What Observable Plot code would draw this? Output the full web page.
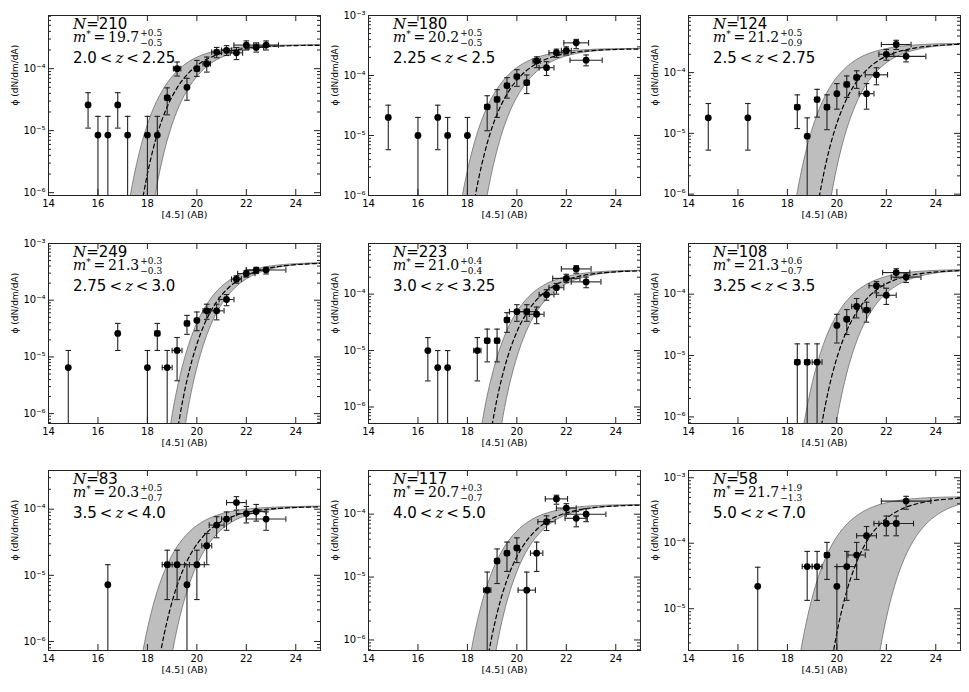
<!DOCTYPE html>
<html><head><meta charset="utf-8">
<script src="https://cdn.jsdelivr.net/npm/d3@7"></script>
<script src="https://cdn.jsdelivr.net/npm/@observablehq/plot@0.6"></script>
<style>
body{margin:0;background:#fff;}
#wrap{position:relative;width:969px;height:692px;overflow:hidden;background:#fff;}
#wrap svg{position:absolute;}
</style></head><body><div id="wrap"></div>
<script>
// ---------- chart values ----------
const nCounts = [210, 180, 124, 249, 223, 108, 83, 117, 58];
const mStars = ["19.7", "20.2", "21.2", "21.3", "21.0", "21.3", "20.3", "20.7", "21.7"];
const mErrPlus = ["0.5", "0.5", "0.5", "0.3", "0.4", "0.6", "0.5", "0.3", "1.9"];
const mErrMinus = ["0.5", "0.5", "0.9", "0.3", "0.4", "0.7", "0.7", "0.7", "1.3"];
const zLow = ["2.0", "2.25", "2.5", "2.75", "3.0", "3.25", "3.5", "4.0", "5.0"];
const zHigh = ["2.25", "2.5", "2.75", "3.0", "3.25", "3.5", "4.0", "5.0", "7.0"];
const xTicks = [14, 16, 18, 20, 22, 24];
const xDomain = [14, 25];
const yDomains = [[9.0e-7, 7.2e-4], [1e-6, 1e-3], [9.5e-7, 8.7e-4], [6.7e-7, 1e-3], [5.1e-7, 7.9e-4],
  [7.8e-7, 6.7e-4], [7.3e-7, 3.85e-4], [6.8e-7, 4.95e-4], [2.3e-6, 1.29e-3]];
const xLabel = "[4.5] (AB)";
const yLabel = "\u03d5 (dN/dm/dA)";

// data points: [mag, phi, phiUpper, phiLower (0 = reaches axis), magHalfWidth]
const pts1 = [[15.6,2.6e-5,4.1e-5,1.1e-5,0],[16.0,8.5e-6,1.7e-5,0,0],[16.4,8.5e-6,1.7e-5,0,0],[16.8,2.6e-5,4.1e-5,1.1e-5,0],[17.2,8.5e-6,1.7e-5,0,0],[18.0,8.5e-6,1.7e-5,0,0],[18.4,8.5e-6,1.7e-5,0,0],[18.8,3.4e-5,4.9e-5,1.8e-5,0.1],[19.2,1.0e-4,1.28e-4,7.6e-5,0.15],[19.6,5.0e-5,7.0e-5,3.1e-5,0],[20.0,1.0e-4,1.36e-4,7.5e-5,0.1],[20.4,1.2e-4,1.54e-4,8.8e-5,0.15],[20.8,1.85e-4,2.2e-4,1.5e-4,0.2],[21.2,1.97e-4,2.35e-4,1.63e-4,0.2],[21.6,1.8e-4,2.2e-4,1.4e-4,0.25],[22.0,2.4e-4,2.8e-4,2.0e-4,0.5],[22.4,2.2e-4,2.6e-4,1.85e-4,0.3],[22.8,2.4e-4,2.8e-4,2.0e-4,0.5]];
const pts2 = [[14.8,2.0e-5,3.2e-5,5.8e-6,0],[16.0,1.0e-5,2.0e-5,0,0],[16.8,2.0e-5,3.2e-5,5.8e-6,0],[17.2,1.0e-5,2.0e-5,0,0],[18.0,1.0e-5,2.0e-5,0,0],[18.8,3.0e-5,4.6e-5,1.2e-5,0.1],[19.2,4.0e-5,5.8e-5,2.0e-5,0.1],[19.6,6.8e-5,9.2e-5,4.2e-5,0.1],[20.0,9.6e-5,1.25e-4,6.6e-5,0.1],[20.4,7.6e-5,1.02e-4,5.0e-5,0.1],[20.8,1.75e-4,2.05e-4,1.35e-4,0.15],[21.2,1.35e-4,1.7e-4,1.0e-4,0.3],[21.6,2.4e-4,2.75e-4,2.0e-4,0.3],[22.0,2.6e-4,3.0e-4,2.2e-4,0.2],[22.4,3.5e-4,4.0e-4,2.8e-4,0.5],[22.8,1.8e-4,2.2e-4,1.45e-4,0.65]];
const pts3 = [[14.8,1.8e-5,3.1e-5,5.3e-6,0],[16.4,1.8e-5,3.1e-5,5.3e-6,0],[18.4,2.7e-5,4.3e-5,1.2e-5,0.1],[18.8,9.0e-6,1.8e-5,0,0],[19.2,3.6e-5,5.3e-5,1.85e-5,0.1],[19.6,2.7e-5,4.3e-5,1.15e-5,0.1],[20.0,4.5e-5,6.6e-5,2.5e-5,0],[20.4,6.4e-5,8.8e-5,3.9e-5,0.1],[20.8,8.3e-5,1.07e-4,5.5e-5,0.1],[21.2,4.5e-5,6.6e-5,2.5e-5,0.3],[21.6,9.2e-5,1.2e-4,6.3e-5,0.45],[22.0,2.0e-4,2.4e-4,1.6e-4,0.3],[22.4,2.9e-4,3.4e-4,2.4e-4,0.6],[22.8,1.85e-4,2.3e-4,1.5e-4,0.8]];
const pts4 = [[14.8,6.5e-6,1.3e-5,0,0],[16.8,2.6e-5,3.9e-5,1.3e-5,0],[18.0,6.5e-6,1.3e-5,0,0],[18.4,2.6e-5,3.9e-5,1.3e-5,0.1],[18.8,6.5e-6,1.3e-5,0,0.2],[19.2,1.3e-5,2.2e-5,3.8e-6,0.2],[19.6,3.9e-5,5.4e-5,2.5e-5,0.1],[20.0,4.4e-5,6.2e-5,2.9e-5,0],[20.4,6.5e-5,8.5e-5,4.6e-5,0.15],[20.8,6.5e-5,8.5e-5,4.5e-5,0.3],[21.2,1.03e-4,1.26e-4,8.0e-5,0.3],[21.6,2.35e-4,2.7e-4,2.0e-4,0.2],[22.0,2.95e-4,3.35e-4,2.55e-4,0.35],[22.4,3.4e-4,3.8e-4,2.95e-4,0.4],[22.8,3.4e-4,3.8e-4,2.9e-4,0.8]];
const pts5 = [[16.4,1.0e-5,1.7e-5,2.9e-6,0],[16.8,5.0e-6,1.0e-5,0,0],[17.2,5.0e-6,1.0e-5,0,0],[18.4,1.0e-5,1.7e-5,2.9e-6,0.15],[18.8,1.5e-5,2.4e-5,6.3e-6,0.1],[19.2,1.5e-5,2.4e-5,6.3e-6,0.1],[19.6,3.5e-5,4.7e-5,2.1e-5,0.1],[20.0,4.9e-5,6.5e-5,3.3e-5,0.3],[20.4,4.9e-5,6.5e-5,3.3e-5,0.35],[20.8,4.4e-5,5.9e-5,3.0e-5,0.3],[21.2,9.8e-5,1.2e-4,7.8e-5,0.3],[21.6,1.3e-4,1.55e-4,1.0e-4,0.3],[22.0,1.9e-4,2.25e-4,1.6e-4,0.55],[22.4,2.8e-4,3.2e-4,2.35e-4,0.6],[22.8,1.65e-4,2.0e-4,1.3e-4,0.6]];
const pts6 = [[18.4,7.8e-6,1.55e-5,0,0.1],[18.8,7.8e-6,1.55e-5,0,0.1],[19.2,7.8e-6,1.55e-5,0,0.2],[20.0,3.1e-5,4.7e-5,1.6e-5,0],[20.4,3.9e-5,5.6e-5,2.2e-5,0.1],[20.8,6.3e-5,8.5e-5,4.1e-5,0.2],[21.2,5.5e-5,7.4e-5,3.5e-5,0.15],[21.6,1.37e-4,1.6e-4,1.05e-4,0.3],[22.0,9.6e-5,1.25e-4,6.8e-5,0.4],[22.4,2.25e-4,2.6e-4,1.85e-4,0.55],[22.8,1.9e-4,2.2e-4,1.55e-4,0.6]];
const pts7 = [[16.4,7.2e-6,1.45e-5,0,0],[18.8,1.45e-5,2.4e-5,4.3e-6,0.2],[19.2,1.45e-5,2.4e-5,4.3e-6,0.3],[19.6,7.2e-6,1.45e-5,0,0],[20.0,1.45e-5,2.4e-5,4.3e-6,0.3],[20.4,2.8e-5,4.3e-5,1.45e-5,0.2],[20.8,5.75e-5,7.7e-5,3.7e-5,0.3],[21.2,7.1e-5,9.1e-5,4.8e-5,0.2],[21.6,1.26e-4,1.55e-4,9.7e-5,0.4],[22.0,8.6e-5,1.1e-4,6.2e-5,0.4],[22.4,9.2e-5,1.18e-4,6.6e-5,0.4],[22.8,7.1e-5,9.1e-5,4.8e-5,0.8]];
const pts8 = [[18.8,6.2e-6,1.2e-5,0,0.15],[19.2,1.8e-5,2.8e-5,7.9e-6,0.1],[19.6,2.4e-5,3.6e-5,1.23e-5,0.1],[20.0,2.9e-5,4.2e-5,1.7e-5,0.1],[20.4,6.2e-6,1.2e-5,0,0.35],[20.8,2.4e-5,3.6e-5,1.23e-5,0.25],[21.2,7.6e-5,9.4e-5,5.5e-5,0.35],[21.6,1.75e-4,2.0e-4,1.44e-4,0.45],[22.0,1.25e-4,1.47e-4,1.0e-4,0.4],[22.4,8.6e-5,1.1e-4,6.3e-5,0.45],[22.8,1.0e-4,1.23e-4,7.6e-5,0.8]];
const pts9 = [[16.8,2.2e-5,4.3e-5,0,0],[18.8,4.4e-5,7.5e-5,1.34e-5,0.2],[19.2,4.4e-5,7.5e-5,1.34e-5,0.2],[19.6,6.6e-5,1.03e-4,2.8e-5,0.1],[20.0,2.2e-5,4.4e-5,0,0],[20.4,4.4e-5,7.5e-5,1.34e-5,0.4],[20.8,6.6e-5,1.03e-4,2.8e-5,0.35],[21.2,1.3e-4,1.8e-4,7.9e-5,0.4],[22.0,2.0e-4,2.6e-4,1.3e-4,0.5],[22.4,2.0e-4,2.6e-4,1.3e-4,0.7],[22.8,4.4e-4,5.2e-4,3.3e-4,1.0]];

// fit curves read at levels: [phi, mag of left band edge, mag of dashed fit, mag of right band edge]
const fit1 = [[1.1e-8,16.7,17.2,17.7],[4.4e-7,17.2,17.7,18.2],[1.6e-6,17.45,17.95,18.45],[4.5e-6,17.7,18.2,18.7],[1.02e-5,17.95,18.45,18.95],[1.95e-5,18.2,18.7,19.2],[4.9e-5,18.7,19.2,19.7],[8.8e-5,19.2,19.7,20.2],[1.28e-4,19.7,20.2,20.7],[1.61e-4,20.2,20.7,21.2],[1.87e-4,20.7,21.2,21.7],[2.05e-4,21.2,21.7,22.2],[2.25e-4,22.2,22.7,23.2],[2.34e-4,23.2,23.7,24.2],[2.39e-4,25.2,25.7,26.2]];
const fit2 = [[1.26e-8,17.2,17.7,18.2],[5.1e-7,17.7,18.2,18.7],[1.88e-6,17.95,18.45,18.95],[5.2e-6,18.2,18.7,19.2],[1.19e-5,18.45,18.95,19.45],[2.27e-5,18.7,19.2,19.7],[5.7e-5,19.2,19.7,20.2],[1.03e-4,19.7,20.2,20.7],[1.49e-4,20.2,20.7,21.2],[1.88e-4,20.7,21.2,21.7],[2.18e-4,21.2,21.7,22.2],[2.39e-4,21.7,22.2,22.7],[2.63e-4,22.7,23.2,23.7],[2.73e-4,23.7,24.2,24.7],[2.79e-4,25.7,26.2,26.7]];
const fit3 = [[1.35e-8,17.8,18.7,19.2],[5.5e-7,18.3,19.2,19.7],[2.0e-6,18.55,19.45,19.95],[5.6e-6,18.8,19.7,20.2],[1.27e-5,19.05,19.95,20.45],[2.43e-5,19.3,20.2,20.7],[6.2e-5,19.8,20.7,21.2],[1.10e-4,20.3,21.2,21.7],[1.60e-4,20.8,21.7,22.2],[2.02e-4,21.3,22.2,22.7],[2.33e-4,21.8,22.7,23.2],[2.56e-4,22.3,23.2,23.7],[2.82e-4,23.3,24.2,24.7],[2.93e-4,24.3,25.2,25.7],[2.99e-4,26.3,27.2,27.7]];
const fit4 = [[2.1e-8,18.5,18.8,19.1],[8.4e-7,19.0,19.3,19.6],[3.1e-6,19.25,19.55,19.85],[8.6e-6,19.5,19.8,20.1],[1.95e-5,19.75,20.05,20.35],[3.73e-5,20.0,20.3,20.6],[9.4e-5,20.5,20.8,21.1],[1.69e-4,21.0,21.3,21.6],[2.45e-4,21.5,21.8,22.1],[3.09e-4,22.0,22.3,22.6],[3.58e-4,22.5,22.8,23.1],[3.93e-4,23.0,23.3,23.6],[4.32e-4,24.0,24.3,24.6],[4.49e-4,25.0,25.3,25.6],[4.58e-4,27.0,27.3,27.6]];
const fit5 = [[1.19e-8,18.1,18.5,18.9],[4.8e-7,18.6,19.0,19.4],[1.78e-6,18.85,19.25,19.65],[4.96e-6,19.1,19.5,19.9],[1.12e-5,19.35,19.75,20.15],[2.15e-5,19.6,20.0,20.4],[5.4e-5,20.1,20.5,20.9],[9.75e-5,20.6,21.0,21.4],[1.41e-4,21.1,21.5,21.9],[1.78e-4,21.6,22.0,22.4],[2.06e-4,22.1,22.5,22.9],[2.26e-4,22.6,23.0,23.4],[2.49e-4,23.6,24.0,24.4],[2.58e-4,24.6,25.0,25.4],[2.64e-4,26.6,27.0,27.4]];
const fit6 = [[1.13e-8,18.1,18.8,19.4],[4.6e-7,18.6,19.3,19.9],[1.68e-6,18.85,19.55,20.15],[4.7e-6,19.1,19.8,20.4],[1.06e-5,19.35,20.05,20.65],[2.03e-5,19.6,20.3,20.9],[5.1e-5,20.1,20.8,21.4],[9.2e-5,20.6,21.3,21.9],[1.33e-4,21.1,21.8,22.4],[1.68e-4,21.6,22.3,22.9],[1.95e-4,22.1,22.8,23.4],[2.14e-4,22.6,23.3,23.9],[2.35e-4,23.6,24.3,24.9],[2.44e-4,24.6,25.3,25.9],[2.49e-4,26.6,27.3,27.9]];
const fit7 = [[5.0e-9,17.1,17.8,18.3],[2.0e-7,17.6,18.3,18.8],[7.4e-7,17.85,18.55,19.05],[2.06e-6,18.1,18.8,19.3],[4.66e-6,18.35,19.05,19.55],[8.9e-6,18.6,19.3,19.8],[2.26e-5,19.1,19.8,20.3],[4.05e-5,19.6,20.3,20.8],[5.85e-5,20.1,20.8,21.3],[7.39e-5,20.6,21.3,21.8],[8.56e-5,21.1,21.8,22.3],[9.39e-5,21.6,22.3,22.8],[1.03e-4,22.6,23.3,23.8],[1.07e-4,23.6,24.3,24.8],[1.10e-4,25.6,26.3,26.8]];
const fit8 = [[6.4e-9,17.5,18.2,18.5],[2.58e-7,18.0,18.7,19.0],[9.5e-7,18.25,18.95,19.25],[2.66e-6,18.5,19.2,19.5],[6.0e-6,18.75,19.45,19.75],[1.15e-5,19.0,19.7,20.0],[2.91e-5,19.5,20.2,20.5],[5.2e-5,20.0,20.7,21.0],[7.55e-5,20.5,21.2,21.5],[9.54e-5,21.0,21.7,22.0],[1.10e-4,21.5,22.2,22.5],[1.21e-4,22.0,22.7,23.0],[1.33e-4,23.0,23.7,24.0],[1.38e-4,24.0,24.7,25.0],[1.41e-4,26.0,26.7,27.0]];
const fit9 = [[2.3e-8,17.9,19.2,21.1],[9.3e-7,18.4,19.7,21.6],[3.4e-6,18.65,19.95,21.85],[9.5e-6,18.9,20.2,22.1],[2.16e-5,19.15,20.45,22.35],[4.14e-5,19.4,20.7,22.6],[1.05e-4,19.9,21.2,23.1],[1.88e-4,20.4,21.7,23.6],[2.71e-4,20.9,22.2,24.1],[3.43e-4,21.4,22.7,24.6],[3.97e-4,21.9,23.2,25.1],[4.36e-4,22.4,23.7,25.6],[4.79e-4,23.4,24.7,26.6],[4.97e-4,24.4,25.7,27.6],[5.08e-4,26.4,27.7,29.6]];

const allPts = [pts1, pts2, pts3, pts4, pts5, pts6, pts7, pts8, pts9];
const allFits = [fit1, fit2, fit3, fit4, fit5, fit6, fit7, fit8, fit9];

// ---------- layout ----------
const W = 322, H = 232, ML = 48, MR = 2, MT = 10, MB = 42;
const FW = W - ML - MR, FH = H - MT - MB;
const colLeft = [0, 320, 640];
const rowTop = [5, 233, 460];

const sup = {"-": "\u207b", "0": "\u2070", "1": "\u00b9", "2": "\u00b2", "3": "\u00b3", "4": "\u2074", "5": "\u2075", "6": "\u2076", "7": "\u2077", "8": "\u2078", "9": "\u2079"};
const fmtPow = v => "10" + String(Math.round(Math.log10(v))).split("").map(c => sup[c]).join("");

const hcap = {draw(ctx, size) { const w = Math.sqrt(size / Math.PI); ctx.moveTo(-w, 0); ctx.lineTo(w, 0); }};
const vcap = {draw(ctx, size) { const w = Math.sqrt(size / Math.PI); ctx.moveTo(0, -w); ctx.lineTo(0, w); }};

const wrap = document.getElementById("wrap");
const ink = "#222";

for (let i = 0; i < 9; i++) {
  const pts = allPts[i], fit = allFits[i], yDom = yDomains[i];
  const below = yDom[0] * 0.1;
  const e0 = Math.ceil(Math.log10(yDom[0]) - 1e-9), e1 = Math.floor(Math.log10(yDom[1]) + 1e-9);
  const majors = [], minors = [];
  for (let e = e0 - 1; e <= e1; e++) {
    const b = Math.pow(10, e);
    if (b >= yDom[0] * 0.999 && b <= yDom[1] * 1.001) majors.push(b);
    for (let k = 2; k <= 9; k++) { const v = k * b; if (v >= yDom[0] && v <= yDom[1]) minors.push(v); }
  }
  const withLow = pts.filter(r => r[3] > 0);
  const withX = pts.filter(r => r[4] > 0);

  const svg = Plot.plot({
    width: W, height: H, marginLeft: ML, marginRight: MR, marginTop: MT, marginBottom: MB,
    x: {domain: xDomain},
    y: {type: "log", domain: yDom},
    style: {fontFamily: "DejaVu Sans", background: "transparent", color: "#000", overflow: "visible"},
    marks: [
      Plot.area(fit, {x1: r => r[1], y1: r => r[0], x2: r => r[3], y2: r => r[0], fill: "#bebebe", stroke: "#6e6e6e", strokeWidth: 0.8, curve: "monotone-x", clip: true}),
      Plot.line(fit, {x: r => r[2], y: r => r[0], stroke: "#000", strokeWidth: 1.2, strokeDasharray: "4,3", curve: "monotone-x", clip: true}),
      Plot.ruleX(pts, {x: r => r[0], y1: r => (r[3] > 0 ? r[3] : below), y2: r => r[2], stroke: ink, strokeWidth: 1.1, clip: true}),
      Plot.dot(pts, {x: r => r[0], y: r => r[2], symbol: hcap, r: 2.8, fill: "none", stroke: ink, strokeWidth: 1.1, clip: true}),
      Plot.dot(withLow, {x: r => r[0], y: r => r[3], symbol: hcap, r: 2.8, fill: "none", stroke: ink, strokeWidth: 1.1, clip: true}),
      Plot.ruleY(withX, {y: r => r[1], x1: r => r[0] - r[4], x2: r => r[0] + r[4], stroke: ink, strokeWidth: 1.1, clip: true}),
      Plot.dot(withX, {x: r => r[0] - r[4], y: r => r[1], symbol: vcap, r: 2.8, fill: "none", stroke: ink, strokeWidth: 1.1, clip: true}),
      Plot.dot(withX, {x: r => r[0] + r[4], y: r => r[1], symbol: vcap, r: 2.8, fill: "none", stroke: ink, strokeWidth: 1.1, clip: true}),
      Plot.dot(pts, {x: r => r[0], y: r => r[1], r: 3.4, fill: "#000", clip: true}),
      Plot.frame({stroke: ink, strokeWidth: 1}),
      Plot.tickY(majors, {y: d => d, insetRight: FW - 6, stroke: ink}),
      Plot.tickY(majors, {y: d => d, insetLeft: FW - 6, stroke: ink}),
      Plot.tickY(minors, {y: d => d, insetRight: FW - 3, stroke: ink}),
      Plot.tickY(minors, {y: d => d, insetLeft: FW - 3, stroke: ink}),
      Plot.tickX(xTicks, {x: d => d, insetTop: FH - 6, stroke: ink}),
      Plot.tickX(xTicks, {x: d => d, insetBottom: FH - 6, stroke: ink}),
      Plot.axisX({ticks: xTicks, tickSize: 0, tickPadding: 4, fontSize: 10}),
      Plot.axisY({ticks: majors, tickSize: 0, tickPadding: 3, tickFormat: fmtPow, fontSize: 10}),
      Plot.text([xLabel], {text: d => d, frameAnchor: "bottom", dy: 22, fontSize: 9.5}),
      Plot.text([yLabel], {text: d => d, frameAnchor: "left", dx: -33, rotate: -90, fontSize: 9})
    ]
  });
  svg.style.left = colLeft[i % 3] + "px";
  svg.style.top = rowTop[Math.floor(i / 3)] + "px";
  wrap.appendChild(svg);

  // in-panel annotation (math-like text)
  const g = d3.select(svg).append("g").attr("fill", "#000").attr("text-anchor", "start");
  const x0 = ML + 25;
  const t1 = g.append("text").attr("x", x0).attr("y", MT + 14).attr("font-size", 15);
  t1.append("tspan").attr("font-family", "DejaVu Serif").attr("font-style", "italic").text("N");
  t1.append("tspan").attr("font-family", "DejaVu Serif").text("=");
  t1.append("tspan").attr("font-family", "DejaVu Sans").text(nCounts[i]);

  const t2 = g.append("text").attr("x", x0).attr("y", MT + 27).attr("font-family", "DejaVu Serif").attr("font-size", 14);
  t2.append("tspan").attr("font-style", "italic").text("m");
  t2.append("tspan").attr("font-size", 9).attr("dy", -5).text("*");
  t2.append("tspan").attr("dy", 5).text("\u2009=\u2009" + mStars[i]);
  const w2 = t2.node().getComputedTextLength();
  g.append("text").attr("x", x0 + w2 + 1).attr("y", MT + 21).attr("font-family", "DejaVu Serif").attr("font-size", 9).text("+" + mErrPlus[i]);
  g.append("text").attr("x", x0 + w2 + 1).attr("y", MT + 31).attr("font-family", "DejaVu Serif").attr("font-size", 9).text("\u2212" + mErrMinus[i]);

  const t3 = g.append("text").attr("x", x0).attr("y", MT + 48).attr("font-size", 15);
  t3.append("tspan").attr("font-family", "DejaVu Sans").text(zLow[i]);
  t3.append("tspan").attr("font-family", "DejaVu Serif").text("\u2009<\u2009");
  t3.append("tspan").attr("font-family", "DejaVu Serif").attr("font-style", "italic").text("z");
  t3.append("tspan").attr("font-family", "DejaVu Serif").text("\u2009<\u2009");
  t3.append("tspan").attr("font-family", "DejaVu Sans").text(zHigh[i]);
}
</script>
</body></html>
